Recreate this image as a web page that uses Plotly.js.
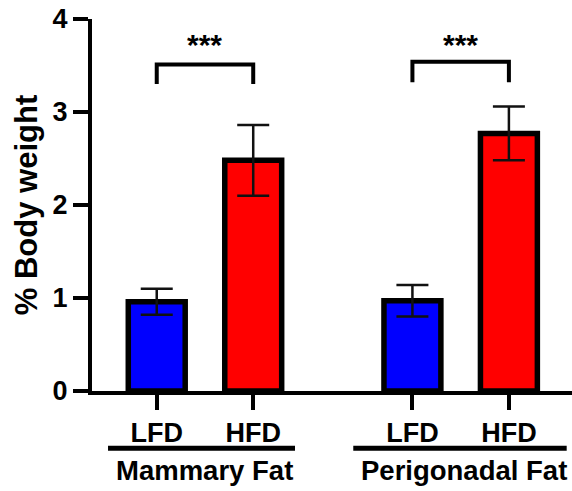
<!DOCTYPE html>
<html>
<head>
<meta charset="utf-8">
<script src="https://cdn.plot.ly/plotly-3.0.1.min.js"></script>
<style>
  html, body { margin: 0; padding: 0; background: #fff; }
  #chart { width: 572px; height: 491px; }
</style>
</head>
<body>
<div id="chart"></div>
<script>
// ---- data ----
const groups = ["Mammary Fat", "Perigonadal Fat"];
const diets = ["LFD", "HFD"];
const meanLFD = [0.96, 0.97];
const semLFD = [0.14, 0.17];
const meanHFD = [2.48, 2.77];
const semHFD = [0.38, 0.29];
const significance = ["***", "***"];
const yTickVals = [0, 1, 2, 3, 4];
const yTickText = ["0", "1", "2", "3", "4"];

// ---- layout constants ----
const groupSpacing = 2.65;
const barWidth = 0.59;
const FONT = "Liberation Sans, Arial, Helvetica, sans-serif";

const xLFD = groups.map((g, i) => i * groupSpacing + 0);
const xHFD = groups.map((g, i) => i * groupSpacing + 1);
const groupCenter = groups.map((g, i) => i * groupSpacing + 0.5);

function errBar(arr) {
  return { type: "data", array: arr, visible: true, color: "#111", thickness: 2.5, width: 16 };
}

const traces = [
  {
    type: "bar", name: diets[0], x: xLFD, y: meanLFD, width: barWidth,
    marker: { color: "#0000FF", line: { color: "#000", width: 5.5 } },
    error_y: errBar(semLFD), hoverinfo: "y"
  },
  {
    type: "bar", name: diets[1], x: xHFD, y: meanHFD, width: barWidth,
    marker: { color: "#FF0000", line: { color: "#000", width: 5.5 } },
    error_y: errBar(semHFD), hoverinfo: "y"
  }
];

const shapes = [];
const annotations = [];
const bracketTop = [3.51, 3.54];
const bracketBottom = [3.30, 3.32];
groups.forEach((g, i) => {
  const x0 = xLFD[i], x1 = xHFD[i];
  shapes.push({
    type: "path", xref: "x", yref: "y",
    path: `M ${x0},${bracketBottom[i]} L ${x0},${bracketTop[i]} L ${x1},${bracketTop[i]} L ${x1},${bracketBottom[i]}`,
    line: { color: "#000", width: 4 }
  });
  annotations.push({
    xref: "x", yref: "y", x: groupCenter[i], y: 3.73, text: significance[i],
    showarrow: false, font: { family: FONT, size: 30, color: "#000", weight: "bold" },
    xanchor: "center", yanchor: "middle"
  });
  annotations.push({
    xref: "x", yref: "paper", x: groupCenter[i] + (i === 1 ? 0.03 : 0), y: -0.215, text: g,
    showarrow: false, font: { family: FONT, size: 27.5, color: "#000", weight: "bold" },
    xanchor: "center", yanchor: "middle"
  });
});
// group underlines
const lineSpan = [[-0.505, 1.433], [2.037, 4.249]];
lineSpan.forEach(s => {
  shapes.push({
    type: "line", xref: "x", yref: "paper", x0: s[0], x1: s[1], y0: -0.1538, y1: -0.1538,
    line: { color: "#000", width: 5 }
  });
});

const layout = {
  width: 572, height: 491,
  margin: { l: 92, r: 0, t: 19, b: 100 },
  paper_bgcolor: "#fff", plot_bgcolor: "#fff",
  showlegend: false,
  barmode: "overlay",
  xaxis: {
    range: [-0.671, 4.304],
    tickmode: "array",
    tickvals: xLFD.concat(xHFD),
    ticktext: xLFD.map(() => diets[0]).concat(xHFD.map(() => diets[1])),
    showline: true, linewidth: 4, linecolor: "#000",
    ticks: "outside", ticklen: 15, tickwidth: 4, tickcolor: "#000",
    showgrid: false, zeroline: false,
    tickfont: { family: FONT, size: 27, color: "#000", weight: "bold" }
  },
  yaxis: {
    range: [0, 4],
    tickmode: "array", tickvals: yTickVals, ticktext: yTickText,
    showline: true, linewidth: 4, linecolor: "#000",
    ticks: "outside", ticklen: 15, tickwidth: 4, tickcolor: "#000",
    showgrid: false, zeroline: false,
    tickfont: { family: FONT, size: 27, color: "#000", weight: "bold" },
    title: { text: "% Body weight", standoff: 7, font: { family: FONT, size: 31, color: "#000", weight: "bold" } }
  },
  shapes: shapes,
  annotations: annotations
};

Plotly.newPlot("chart", traces, layout, { displayModeBar: false, staticPlot: true });
</script>
</body>
</html>
